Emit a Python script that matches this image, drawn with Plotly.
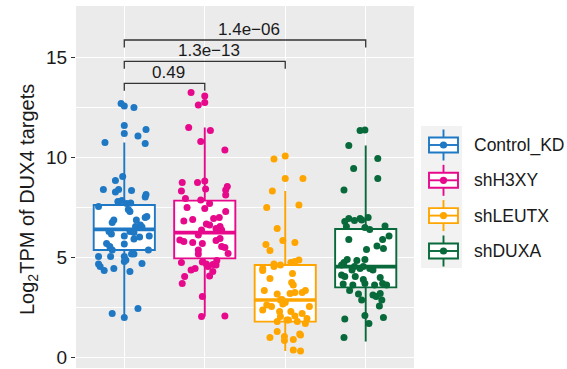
import plotly.graph_objects as go

# ---------------- data ----------------
groups = ["Control_KD", "shH3XY", "shLEUTX", "shDUXA"]
colors = ["#1F78C4", "#E7098C", "#FFA500", "#08693A"]

# box statistics
q1 = [5.35, 4.93, 1.77, 3.48]
median = [6.38, 6.22, 2.85, 4.52]
q3 = [7.60, 7.82, 4.60, 6.40]
lowerfence = [1.98, 2.02, 0.30, 0.78]
upperfence = [10.72, 11.48, 8.30, 10.57]

# jittered points: values and horizontal jitter offsets (category units)
ctrl_y = [12.68, 12.55, 12.48, 11.57, 11.18, 11.38, 11.05, 10.72, 10.68, 9.02,
          8.82, 8.38, 8.38, 8.25, 8.32, 8.13, 8.00, 7.77, 7.82, 7.68,
          7.70, 7.52, 7.38, 7.27, 7.02, 6.98, 6.85, 6.85, 6.72, 6.60,
          6.52, 6.50, 6.27, 6.15, 6.27, 6.05, 6.22, 6.05, 6.00, 5.90,
          5.65, 5.35, 5.68, 5.52, 5.35, 5.02, 5.02, 5.02, 5.15, 5.15,
          4.77, 4.85, 4.68, 4.65, 4.52, 4.32, 4.43, 4.27, 2.18, 1.98, 2.43]
ctrl_dx = [-0.04, 0.00, 0.12, 0.00, 0.00, 0.27, 0.17, -0.24, 0.26, -0.02,
           -0.11, -0.26, -0.07, -0.11, 0.09, 0.27, 0.26, -0.08, -0.03, 0.03,
           0.08, -0.32, 0.05, 0.07, 0.28, 0.26, 0.15, -0.13, -0.15, 0.20,
           0.14, 0.22, -0.19, -0.16, 0.07, 0.00, 0.12, 0.31, 0.19, 0.12,
           0.00, 0.30, -0.22, -0.18, -0.15, -0.32, -0.17, 0.00, 0.12, 0.09,
           0.00, 0.02, 0.22, -0.32, -0.30, -0.25, -0.13, 0.07, -0.15, 0.00, 0.17]

h3_y = [13.22, 13.05, 12.72, 12.60, 11.48, 11.32, 10.77, 10.35, 8.72, 8.72,
        8.80, 8.40, 8.30, 8.52, 8.35, 8.10, 7.92, 7.85, 7.68, 7.47,
        7.43, 7.27, 6.80, 6.88, 6.92, 6.97, 6.65, 6.60, 6.52, 6.43,
        6.35, 6.10, 6.35, 5.85, 5.77, 5.72, 5.68, 5.93, 5.82, 5.52,
        5.48, 5.35, 5.15, 5.18, 4.82, 4.72, 4.75, 4.65, 4.62, 4.60,
        4.52, 4.43, 4.35, 4.27, 4.05, 4.02, 3.68, 3.02, 2.02, 2.05]
h3_dx = [-0.17, 0.00, 0.00, -0.08, -0.20, 0.07, -0.05, 0.25, -0.28, -0.09,
         0.00, 0.01, -0.29, 0.28, 0.26, 0.26, -0.24, -0.05, 0.06, -0.22,
         0.00, 0.26, -0.26, -0.15, 0.11, 0.18, 0.02, 0.06, 0.19, 0.14,
         -0.04, -0.08, 0.21, -0.31, -0.26, -0.15, -0.03, 0.19, 0.14, 0.21,
         0.25, -0.08, -0.08, 0.29, 0.15, -0.29, -0.03, 0.02, 0.10, 0.14,
         0.04, -0.12, -0.17, 0.10, 0.06, -0.25, -0.28, -0.03, -0.04, 0.25]

leu_y = [9.90, 10.05, 8.93, 8.93, 8.30, 7.47, 7.60, 6.43, 5.82, 5.72,
         5.62, 5.32, 4.65, 4.60, 4.72, 4.77, 4.85, 4.43, 4.32, 4.18,
         3.93, 3.73, 3.60, 3.32, 3.15, 3.22, 3.32, 3.22, 2.85, 2.72,
         2.65, 2.60, 2.52, 2.35, 2.52, 2.27, 2.27, 2.18, 2.02, 2.05,
         1.93, 1.85, 1.77, 1.77, 1.68, 1.27, 1.10, 0.98, 1.02, 0.82,
         0.88, 0.35, 0.30, 1.85, 4.52, 2.88, 1.15, 3.18]
leu_dx = [-0.14, 0.00, 0.00, 0.22, -0.16, -0.23, 0.17, -0.10, -0.03, 0.12,
          -0.24, -0.19, -0.14, -0.06, 0.07, 0.12, 0.17, -0.28, -0.28, 0.09,
          -0.19, 0.08, 0.10, -0.26, -0.10, 0.12, 0.25, 0.21, -0.06, 0.00,
          -0.03, -0.23, -0.17, -0.28, 0.30, -0.07, 0.07, 0.21, -0.06, 0.12,
          0.27, 0.04, -0.10, 0.15, 0.25, -0.10, 0.19, -0.19, -0.01, -0.01,
          0.10, 0.10, 0.19, 0.02, -0.14, -0.04, 0.18, 0.06]

dux_y = [11.32, 11.35, 10.57, 9.93, 9.43, 8.93, 8.35, 6.93, 6.93, 6.97,
         6.77, 6.82, 6.85, 6.52, 6.48, 6.38, 6.55, 5.88, 6.05, 5.88,
         5.55, 5.43, 5.38, 4.88, 4.88, 4.82, 4.72, 4.60, 4.52, 4.43,
         4.35, 4.52, 4.43, 4.35, 4.10, 4.02, 4.02, 3.88, 3.98, 3.65,
         3.60, 3.68, 3.60, 3.68, 3.60, 3.32, 3.15, 3.10, 3.18, 3.02,
         2.85, 2.85, 2.55, 2.07, 1.90, 1.97, 1.68, 0.97]
dux_dx = [-0.07, -0.01, -0.21, 0.15, -0.15, 0.15, -0.27, -0.21, -0.07, 0.03,
          -0.26, -0.14, -0.05, -0.24, -0.01, 0.05, 0.24, -0.21, 0.29, 0.21,
          0.14, 0.22, 0.01, -0.01, -0.23, -0.11, -0.27, -0.30, -0.14, -0.07,
          -0.17, -0.03, 0.05, 0.09, -0.30, -0.26, -0.13, -0.03, 0.18, -0.28,
          -0.16, -0.01, 0.11, 0.21, 0.26, -0.20, -0.09, 0.09, 0.18, 0.13,
          -0.05, 0.20, 0.17, -0.01, -0.26, 0.22, 0.04, -0.27]

points_y = [ctrl_y, h3_y, leu_y, dux_y]
points_dx = [ctrl_dx, h3_dx, leu_dx, dux_dx]

# significance brackets
cmp_from = [1, 1, 1]
cmp_to = [2, 3, 4]
cmp_y = [13.68, 14.78, 15.85]
cmp_label = ["0.49", "1.3e\u221213", "1.4e\u221206"]

# ---------------- figure ----------------
W, H = 567, 369
L, R, T, B = 76, 414, 6, 368
box_w = 0.76
font_family = "Liberation Sans, Arial, Helvetica, sans-serif"

fig = go.Figure()

for i, g in enumerate(groups):
    xpos = i + 1
    fig.add_trace(go.Box(
        x=[xpos], q1=[q1[i]], median=[median[i]], q3=[q3[i]],
        lowerfence=[lowerfence[i]], upperfence=[upperfence[i]],
        width=box_w, fillcolor="white", line=dict(color=colors[i], width=1.9),
        whiskerwidth=0, boxpoints=False, showlegend=False, hoverinfo="skip",
    ))
    fig.add_trace(go.Scatter(
        x=[xpos - box_w / 2, xpos + box_w / 2], y=[median[i], median[i]],
        mode="lines", line=dict(color=colors[i], width=3.6),
        showlegend=False, hoverinfo="skip",
    ))

for i, g in enumerate(groups):
    fig.add_trace(go.Scatter(
        x=[i + 1 + d for d in points_dx[i]], y=points_y[i], mode="markers",
        marker=dict(color=colors[i], size=7, line=dict(width=0)),
        name=g, showlegend=False,
    ))

tick_drop = 0.37
for a, b, yv, lab in zip(cmp_from, cmp_to, cmp_y, cmp_label):
    fig.add_trace(go.Scatter(
        x=[a, a, b, b], y=[yv - tick_drop, yv, yv, yv - tick_drop],
        mode="lines", line=dict(color="#333333", width=1.3),
        showlegend=False, hoverinfo="skip",
    ))
    fig.add_annotation(x=(a + b) / 2, y=yv + 0.535, text=lab, showarrow=False,
                       xanchor="center", yanchor="middle", xshift=4,
                       font=dict(size=17, color="#1a1a1a", family=font_family))

# pixel -> paper helpers
def px(xp):
    return (xp - L) / (R - L)

def py(yp):
    return (B - yp) / (B - T)

shapes = []
# legend background
shapes.append(dict(type="rect", xref="paper", yref="paper",
                   x0=px(421), x1=px(462), y0=py(268), y1=py(126),
                   fillcolor="#F2F2F2", line=dict(width=0), layer="below"))
key_cy = [145, 180.3, 215.6, 251]
for i, g in enumerate(groups):
    cy = key_cy[i]
    cx = 443.5
    col = colors[i]
    shapes.append(dict(type="line", xref="paper", yref="paper",
                       x0=px(cx), x1=px(cx), y0=py(cy + 15.5), y1=py(cy - 15.5),
                       line=dict(color=col, width=1.9)))
    shapes.append(dict(type="rect", xref="paper", yref="paper",
                       x0=px(429), x1=px(458), y0=py(cy + 7.5), y1=py(cy - 7.5),
                       fillcolor="white", line=dict(color=col, width=1.9)))
    shapes.append(dict(type="line", xref="paper", yref="paper",
                       x0=px(429), x1=px(458), y0=py(cy), y1=py(cy),
                       line=dict(color=col, width=1.9)))
    shapes.append(dict(type="circle", xref="paper", yref="paper",
                       x0=px(cx - 3.6), x1=px(cx + 3.6), y0=py(cy + 3.6), y1=py(cy - 3.6),
                       fillcolor=col, line=dict(width=0)))
    fig.add_annotation(xref="paper", yref="paper", x=px(472), y=py(cy),
                       text=g, showarrow=False, xanchor="left", yanchor="middle",
                       font=dict(size=17.5, color="#1a1a1a", family=font_family))

# y-axis title
fig.add_annotation(xref="paper", yref="paper", x=px(28), y=py(200),
                   text="Log<sub>2</sub>TPM of DUX4 targets", textangle=-90,
                   showarrow=False, xanchor="center", yanchor="middle",
                   font=dict(size=20, color="#1a1a1a", family=font_family))

fig.update_layout(
    width=W, height=H,
    margin=dict(l=L, r=W - R, t=T, b=H - B),
    plot_bgcolor="#EBEBEB", paper_bgcolor="white",
    shapes=shapes, showlegend=False,
    font=dict(family=font_family),
)
fig.update_xaxes(range=[0.4, 4.6], tickvals=[1, 2, 3, 4], showticklabels=False,
                 showgrid=True, gridcolor="white", gridwidth=1.4, zeroline=False,
                 ticks="", showline=False)
fig.update_yaxes(range=[-0.55, 17.55], tickvals=[0, 5, 10, 15],
                 ticktext=["0", "5", "10", "15"],
                 showgrid=True, gridcolor="white", gridwidth=1.4, zeroline=False,
                 ticks="outside", ticklen=4, tickwidth=1.2, tickcolor="#333333",
                 tickfont=dict(size=19, color="#1a1a1a", family=font_family),
                 minor=dict(dtick=2.5, tick0=0, showgrid=True, gridcolor="white",
                            gridwidth=0.7, ticks=""),
                 showline=False)

fig.write_html("out.html", config={"displayModeBar": False},
               post_script="document.body.style.margin='0';document.body.style.padding='0';")
